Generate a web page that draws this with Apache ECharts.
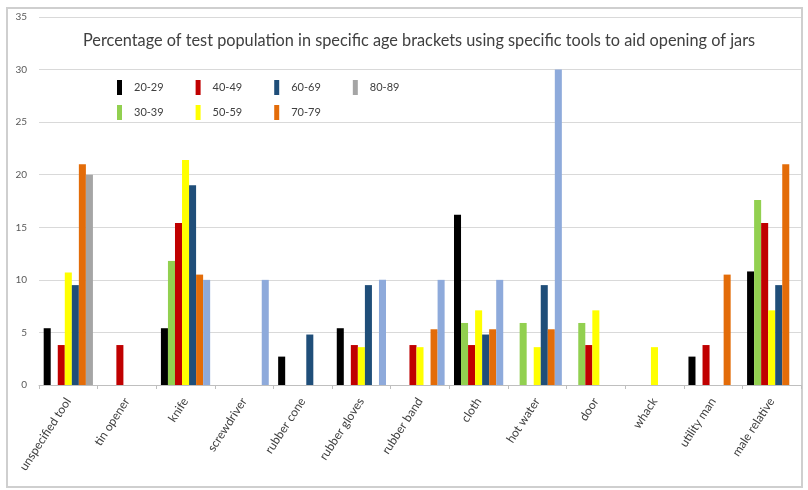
<!DOCTYPE html>
<html><head><meta charset="utf-8">
<script src="https://cdn.jsdelivr.net/npm/echarts@6/dist/echarts.min.js"></script>
<style>html,body{margin:0;padding:0;background:#fff}#c{width:808px;height:490px}</style>
</head><body><div id="c"></div>
<script>
const categories = ['unspecified tool','tin opener','knife','screwdriver','rubber cone','rubber gloves','rubber band','cloth','hot water','door','whack','utility man','male relative'];
const s20_29 = [5.4, 0, 5.4, 0, 2.7, 5.4, 0, 16.2, 0, 0, 0, 2.7, 10.8];
const s30_39 = [0, 0, 11.8, 0, 0, 0, 0, 5.9, 5.9, 5.9, 0, 0, 17.6];
const s40_49 = [3.8, 3.8, 15.4, 0, 0, 3.8, 3.8, 3.8, 0, 3.8, 0, 3.8, 15.4];
const s50_59 = [10.7, 0, 21.4, 0, 0, 3.6, 3.6, 7.1, 3.6, 7.1, 3.6, 0, 7.1];
const s60_69 = [9.5, 0, 19.0, 0, 4.8, 9.5, 0, 4.8, 9.5, 0, 0, 0, 9.5];
const s70_79 = [21.0, 0, 10.5, 0, 0, 0, 5.3, 5.3, 5.3, 0, 0, 10.5, 21.0];
const s80_89 = [20, 0, 10, 10, 0, 10, 10, 10, 30, 0, 0, 0, 0];
const yTicks = [0, 35, 5];
const title = 'Percentage of test population in specific age brackets using specific tools to aid opening of jars';

const names = ['20-29','30-39','40-49','50-59','60-69','70-79','80-89'];
const colors = ['#000000','#92d050','#c00000','#ffff00','#1f4e79','#e36c09','#a5a5a5'];
const datas = [s20_29,s30_39,s40_49,s50_59,s60_69,s70_79,s80_89];
const lightBlue = '#8eaadb';

const series = names.map((n,i)=>({
  name:n, type:'bar', barGap:0, barCategoryGap:'16%',
  itemStyle:{color:colors[i]},
  data: datas[i].map((v,j)=> (i===6 && j>0) ? {value:v,itemStyle:{color:lightBlue}} : v),
  animation:false
}));

const legendCommon = {orient:'horizontal', icon:'rect', itemWidth:5, itemHeight:15, itemGap:32,
  textStyle:{fontSize:11, color:'#404040', fontFamily:'Lato', padding:[0,0,0,7]}, selectedMode:false};

const chart = echarts.init(document.getElementById('c'));
chart.setOption({
  animation:false,
  title:{text:title, left:78, top:28, textStyle:{fontSize:16.3, fontWeight:'normal', color:'#404040', fontFamily:'Lato'}},
  legend:[
    Object.assign({left:112, top:75, data:['20-29','40-49','60-69','80-89']}, legendCommon),
    Object.assign({left:112, top:100, data:['30-39','50-59','70-79']}, legendCommon)
  ],
  grid:{left:39, right:7, top:17, bottom:105},
  xAxis:{type:'category', data:categories,
    axisLine:{lineStyle:{color:'#bfbfbf'}},
    axisTick:{show:true, alignWithLabel:false, length:4, lineStyle:{color:'#bfbfbf'}},
    axisLabel:{interval:0, rotate:57, fontSize:12, color:'#404040', margin:14, fontFamily:'Lato'}},
  yAxis:{type:'value', min:yTicks[0], max:yTicks[1], interval:yTicks[2],
    axisLine:{show:false}, axisTick:{show:false},
    splitLine:{lineStyle:{color:'#d9d9d9'}},
    axisLabel:{fontSize:10, color:'#595959', margin:12, fontFamily:'Lato'}},
  graphic:[{type:'rect', shape:{x:7, y:8, width:795, height:479}, style:{fill:'none', stroke:'#cfcfcf', lineWidth:2}, silent:true}],
  series: series
});
</script></body></html>
